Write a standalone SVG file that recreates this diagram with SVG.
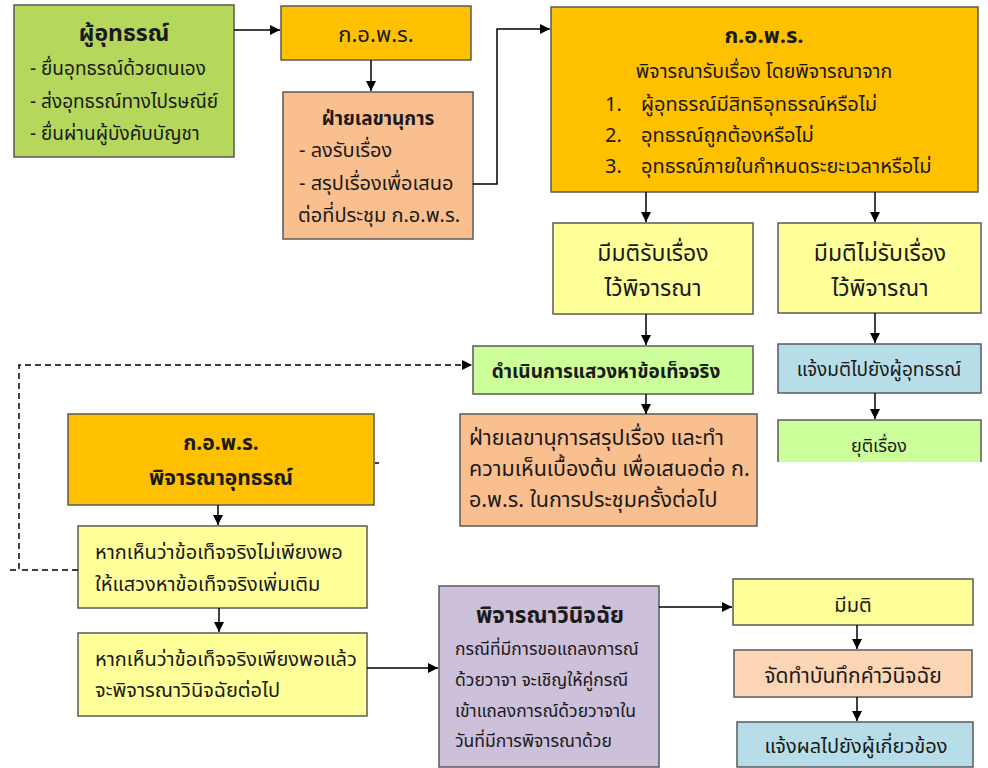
<svg xmlns="http://www.w3.org/2000/svg" width="988" height="768" viewBox="0 0 988 768">
<defs>
<marker id="ah" viewBox="0 0 10 10" refX="10" refY="5" markerWidth="10" markerHeight="10" markerUnits="userSpaceOnUse" orient="auto"><path d="M0,0 L10,5 L0,10 z" fill="#000"/></marker>
<style>
.b{stroke:#5a5a5a;stroke-width:1.5}
text{font-family:"Noto Sans Thai","Tahoma","Leelawadee UI","Noto Sans",sans-serif;fill:#1a1a1a;font-size:19px}
.t{font-weight:bold;font-size:22px}
.c{text-anchor:middle}
.l{stroke:#000;stroke-width:1.5;fill:none}
.d{stroke:#000;stroke-width:1.5;fill:none;stroke-dasharray:6,4}
</style>
</defs>
<rect width="988" height="768" fill="#fff"/>
<g id="n1"><rect class="b" x="14" y="5" width="220" height="152" fill="#b5d75c"/>
<text class="t c" x="124" y="41" style="font-size:23px">ผู้อุทธรณ์</text>
<text x="30" y="75">- ยื่นอุทธรณ์ด้วยตนเอง</text>
<text x="30" y="108">- ส่งอุทธรณ์ทางไปรษณีย์</text>
<text x="30" y="140">- ยื่นผ่านผู้บังคับบัญชา</text></g>
<g id="n2"><rect class="b" x="281" y="6" width="190" height="54" fill="#ffc000"/>
<text class="c" x="376" y="42" style="font-size:22px">ก.อ.พ.ร.</text></g>
<g id="n3"><rect class="b" x="283" y="92" width="190" height="147" fill="#fabf8f"/>
<text class="c" x="378" y="125" style="font-weight:bold">ฝ่ายเลขานุการ</text>
<text x="299" y="157" style="font-size:20px">- ลงรับเรื่อง</text>
<text x="299" y="190" style="font-size:20px">- สรุปเรื่องเพื่อเสนอ</text>
<text x="298" y="222" style="font-size:20px">ต่อที่ประชุม ก.อ.พ.ร.</text></g>
<g id="n4"><rect class="b" x="551" y="7" width="427" height="185" fill="#ffc000"/>
<text class="c" x="764" y="43" style="font-weight:bold;font-size:22px">ก.อ.พ.ร.</text>
<text class="c" x="764" y="78" style="font-size:19.5px">พิจารณารับเรื่อง โดยพิจารณาจาก</text>
<text x="605" y="111" style="font-size:20px">1.</text><text x="641" y="111" style="font-size:20px">ผู้อุทธรณ์มีสิทธิอุทธรณ์หรือไม่</text>
<text x="605" y="142" style="font-size:20px">2.</text><text x="641" y="142" style="font-size:20px">อุทธรณ์ถูกต้องหรือไม่</text>
<text x="605" y="173" style="font-size:20px">3.</text><text x="641" y="173" style="font-size:20px">อุทธรณ์ภายในกำหนดระยะเวลาหรือไม่</text></g>
<g id="n5"><rect class="b" x="553" y="223" width="200" height="91" fill="#ffff99"/>
<text class="c" x="653" y="261" style="font-size:23px">มีมติรับเรื่อง</text>
<text class="c" x="653" y="296" style="font-size:23px">ไว้พิจารณา</text></g>
<g id="n6"><rect class="b" x="778" y="223" width="203" height="90" fill="#ffff99"/>
<text class="c" x="880" y="261" style="font-size:23px">มีมติไม่รับเรื่อง</text>
<text class="c" x="880" y="296" style="font-size:23px">ไว้พิจารณา</text></g>
<g id="n7"><rect class="b" x="473" y="346" width="280" height="48" fill="#ccff99"/>
<text class="c" x="606" y="378" style="font-weight:bold">ดำเนินการแสวงหาข้อเท็จจริง</text></g>
<g id="n8"><rect class="b" x="460" y="414" width="297" height="112" fill="#fabf8f"/>
<text x="469" y="445" style="font-size:21.5px">ฝ่ายเลขานุการสรุปเรื่อง และทำ</text>
<text x="469" y="476" style="font-size:21.5px">ความเห็นเบื้องต้น เพื่อเสนอต่อ ก.</text>
<text x="469" y="507" style="font-size:21.5px">อ.พ.ร. ในการประชุมครั้งต่อไป</text></g>
<g id="n9"><rect class="b" x="778" y="344" width="203" height="49" fill="#b7dee8"/>
<text class="c" x="879" y="376">แจ้งมติไปยังผู้อุทธรณ์</text></g>
<g id="n10"><rect x="778" y="420" width="203" height="42" fill="#ccff99"/>
<path class="b" d="M778,462 V420 H981 V462" fill="none"/>
<text class="c" x="879" y="452" style="font-size:18px">ยุติเรื่อง</text></g>
<g id="n11"><rect class="b" x="68" y="414" width="306" height="91" fill="#ffc000"/>
<text class="t c" x="221" y="450" style="font-size:21px">ก.อ.พ.ร.</text>
<text class="t c" x="221" y="485" style="font-size:21px">พิจารณาอุทธรณ์</text></g>
<g id="n12"><rect class="b" x="78" y="526" width="289" height="82" fill="#ffff99"/>
<text x="95" y="559" style="font-size:20px">หากเห็นว่าข้อเท็จจริงไม่เพียงพอ</text>
<text x="95" y="591" style="font-size:20px">ให้แสวงหาข้อเท็จจริงเพิ่มเติม</text></g>
<g id="n13"><rect class="b" x="78" y="633" width="289" height="83" fill="#ffff99"/>
<text x="95" y="666" style="font-size:20px">หากเห็นว่าข้อเท็จจริงเพียงพอแล้ว</text>
<text x="95" y="697" style="font-size:20px">จะพิจารณาวินิจฉัยต่อไป</text></g>
<g id="n14"><rect class="b" x="439" y="586" width="220" height="181" fill="#ccc0da"/>
<text class="c" x="550" y="623" style="font-weight:bold;font-size:22.5px">พิจารณาวินิจฉัย</text>
<text x="455" y="655" style="font-size:17.5px">กรณีที่มีการขอแถลงการณ์</text>
<text x="455" y="686" style="font-size:17.5px">ด้วยวาจา จะเชิญให้คู่กรณี</text>
<text x="455" y="717" style="font-size:17.5px">เข้าแถลงการณ์ด้วยวาจาใน</text>
<text x="455" y="747" style="font-size:17.5px">วันที่มีการพิจารณาด้วย</text></g>
<g id="n15"><rect class="b" x="733" y="579" width="240" height="46" fill="#ffff99"/>
<text class="c" x="853" y="612" style="font-size:20px">มีมติ</text></g>
<g id="n16"><rect class="b" x="734" y="650" width="238" height="47" fill="#fcd5b4"/>
<text class="c" x="853" y="683" style="font-size:21px">จัดทำบันทึกคำวินิจฉัย</text></g>
<g id="n17"><rect class="b" x="737" y="722" width="236" height="45" fill="#b7dee8"/>
<text class="c" x="856" y="753" style="font-size:20px">แจ้งผลไปยังผู้เกี่ยวข้อง</text></g>
<g id="connectors">
<line class="l" x1="234" y1="30" x2="280" y2="30" marker-end="url(#ah)"/>
<line class="l" x1="371" y1="60" x2="371" y2="91" marker-end="url(#ah)"/>
<polyline class="l" points="473,184 497,184 497,29 550,29" marker-end="url(#ah)"/>
<line class="l" x1="646" y1="192" x2="646" y2="222" marker-end="url(#ah)"/>
<line class="l" x1="875" y1="192" x2="875" y2="222" marker-end="url(#ah)"/>
<line class="l" x1="646" y1="314" x2="646" y2="345" marker-end="url(#ah)"/>
<line class="l" x1="875" y1="313" x2="875" y2="343" marker-end="url(#ah)"/>
<line class="l" x1="646" y1="394" x2="646" y2="414" marker-end="url(#ah)"/>
<line class="l" x1="875" y1="393" x2="875" y2="419" marker-end="url(#ah)"/>
<polyline class="d" points="78,570 19,570 19,365 472,365" marker-end="url(#ah)"/>
<line class="d" x1="10" y1="570" x2="19" y2="570"/>
<line class="l" x1="375" y1="463" x2="379" y2="463"/>
<line class="l" x1="218" y1="505" x2="218" y2="525" marker-end="url(#ah)"/>
<line class="l" x1="219" y1="608" x2="219" y2="632" marker-end="url(#ah)"/>
<line class="l" x1="367" y1="668" x2="438" y2="668" marker-end="url(#ah)"/>
<line class="l" x1="659" y1="607" x2="732" y2="607" marker-end="url(#ah)"/>
<line class="l" x1="857" y1="625" x2="857" y2="649" marker-end="url(#ah)"/>
<line class="l" x1="857" y1="697" x2="857" y2="721" marker-end="url(#ah)"/>
</g>
</svg>
